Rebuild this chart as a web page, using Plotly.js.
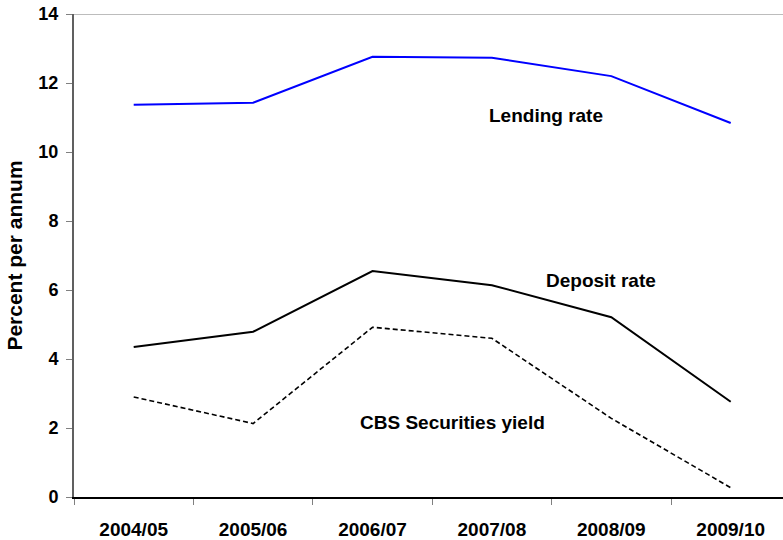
<!DOCTYPE html>
<html>
<head>
<meta charset="utf-8">
<script src="https://cdn.plot.ly/plotly-3.0.1.min.js"></script>
<style>html,body{margin:0;padding:0;background:#fff;}#chart{width:783px;height:540px;}</style>
</head>
<body>
<div id="chart"></div>
<script>
const years = ["2004/05", "2005/06", "2006/07", "2007/08", "2008/09", "2009/10"];
const lendingRate = [11.37, 11.43, 12.76, 12.73, 12.2, 10.84];
const depositRate = [4.35, 4.79, 6.55, 6.14, 5.21, 2.76];
const cbsYield = [2.9, 2.13, 4.92, 4.6, 2.28, 0.27];
const yTicks = [0, 2, 4, 6, 8, 10, 12, 14];

const FONT = "Liberation Sans, Arial, sans-serif";

const traces = [
  {x: years, y: lendingRate, type: "scatter", mode: "lines", name: "Lending rate",
   line: {color: "#0000ff", width: 2}},
  {x: years, y: depositRate, type: "scatter", mode: "lines", name: "Deposit rate",
   line: {color: "#000000", width: 2}},
  {x: years, y: cbsYield, type: "scatter", mode: "lines", name: "CBS Securities yield",
   line: {color: "#000000", width: 1.6, dash: "5px,3px"}}
];

const layout = {
  width: 783, height: 540,
  margin: {l: 74, r: 0, t: 14, b: 43},
  paper_bgcolor: "#ffffff", plot_bgcolor: "#ffffff",
  showlegend: false,
  font: {family: FONT, color: "#000000"},
  xaxis: {
    type: "category",
    range: [-0.5, 5.438],
    showgrid: false, zeroline: false,
    showline: true, linecolor: "#000000", linewidth: 1.5,
    ticks: "outside", tickson: "boundaries", ticklen: 6, tickcolor: "#808080", tickwidth: 1,
    ticklabelstandoff: 15,
    tickfont: {family: FONT, size: 19, color: "#000000", weight: "bold"}
  },
  yaxis: {
    range: [0, 14],
    tickvals: yTicks,
    ticktext: yTicks.map(String),
    showgrid: false, zeroline: false,
    showline: true, linecolor: "#606060", linewidth: 2,
    ticks: "outside", ticklen: 6, tickcolor: "#808080", tickwidth: 1,
    ticklabelstandoff: 4,
    tickfont: {family: FONT, size: 18, color: "#000000", weight: "bold"},
    title: {text: "Percent per annum", standoff: 10,
            font: {family: FONT, size: 21, color: "#000000", weight: "bold"}}
  },
  shapes: [
    {type: "line", xref: "paper", yref: "y", x0: 0, x1: 1, y0: 14, y1: 14,
     line: {color: "#a6a6a6", width: 1.5}}
  ],
  annotations: [
    {x: 3.453, y: 11.05, xref: "x", yref: "y", text: "Lending rate", showarrow: false,
     font: {family: FONT, size: 19, color: "#000000", weight: "bold"}},
    {x: 3.914, y: 6.29, xref: "x", yref: "y", text: "Deposit rate", showarrow: false,
     font: {family: FONT, size: 19, color: "#000000", weight: "bold"}},
    {x: 2.666, y: 2.17, xref: "x", yref: "y", text: "CBS Securities yield", showarrow: false,
     font: {family: FONT, size: 19, color: "#000000", weight: "bold"}}
  ]
};

Plotly.newPlot("chart", traces, layout, {displayModeBar: false, staticPlot: true});
</script>
</body>
</html>
